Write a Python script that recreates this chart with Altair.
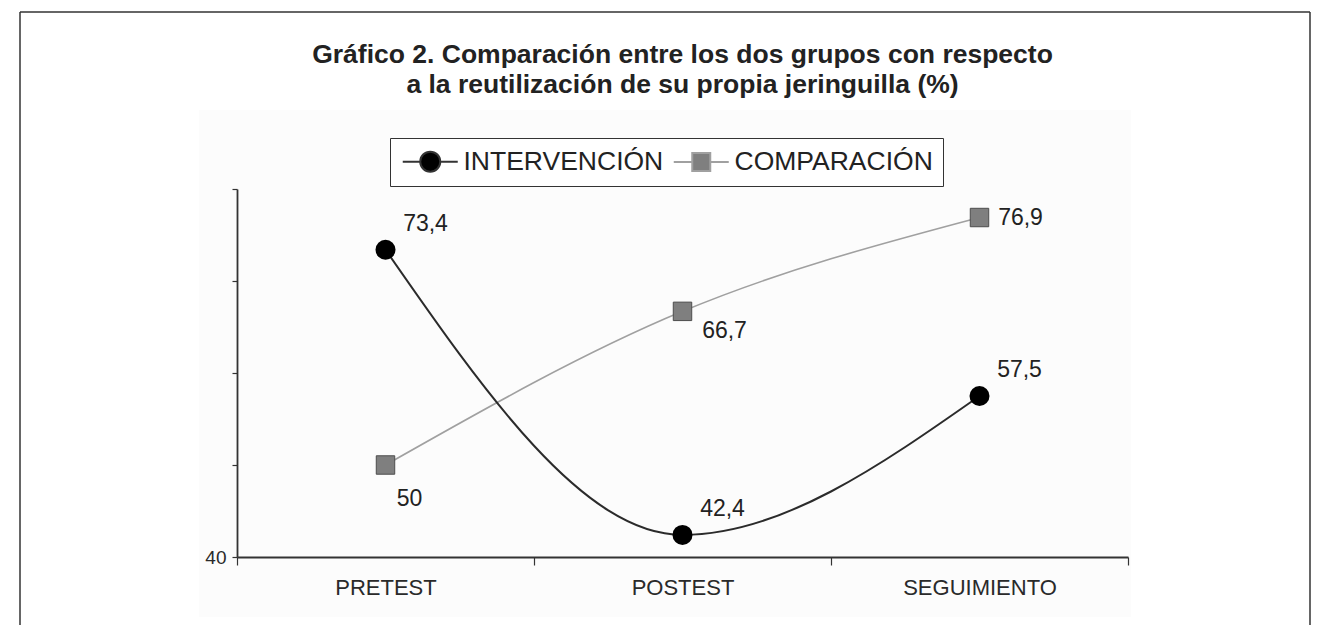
import altair as alt
import pandas as pd

# ---- data ----
fases = ["PRETEST", "POSTEST", "SEGUIMIENTO"]
series = ["INTERVENCIÓN", "COMPARACIÓN"]
intervencion = [73.4, 42.4, 57.5]
comparacion = [50, 66.7, 76.9]
titulo = ["Gráfico 2. Comparación entre los dos grupos con respecto",
          "a la reutilización de su propia jeringuilla (%)"]
y_ticks = [40, 50, 60, 70, 80]

rows = []
for f, v in zip(fases, intervencion):
    rows.append({"fase": f, "serie": series[0], "valor": v})
for f, v in zip(fases, comparacion):
    rows.append({"fase": f, "serie": series[1], "valor": v})
df = pd.DataFrame(rows)
dummy = pd.DataFrame({"k": [0]})

FONT = "Liberation Sans"
W, H = 891, 368

x = alt.X("fase:N", sort=fases,
          scale=alt.Scale(type="band", paddingInner=0, paddingOuter=0),
          axis=alt.Axis(title=None, tickBand="extent", labelAngle=0, zindex=2,
                        labelFont=FONT, labelFontSize=22, labelColor="#2a2a2a",
                        labelPadding=12, tickSize=8, tickColor="#333", tickWidth=1.2,
                        domainColor="#333", domainWidth=1.8, grid=False))
y = alt.Y("valor:Q",
          scale=alt.Scale(domain=[40, 80], nice=False, zero=False),
          axis=alt.Axis(title=None, values=y_ticks, zindex=2,
                        labelExpr="datum.value == 40 ? '40' : ''",
                        labelFont=FONT, labelFontSize=19, labelColor="#2a2a2a",
                        labelPadding=6, tickSize=5, tickColor="#333", tickWidth=1.2,
                        domainColor="#333", domainWidth=1.8, grid=False))

base = alt.Chart(df).transform_calculate(
    etiqueta="replace(toString(datum.valor), '.', ',')")

# faint image background and outer frame
fondo = alt.Chart(dummy).mark_rect(fill="#fcfcfc").encode(
    x=alt.value(-38), x2=alt.value(894), y=alt.value(-79), y2=alt.value(428))
marco_izq = alt.Chart(dummy).mark_rule(color="#333", strokeWidth=1.5).encode(
    x=alt.value(-217), y=alt.value(-177), y2=alt.value(445))
marco_der = alt.Chart(dummy).mark_rule(color="#333", strokeWidth=1.5).encode(
    x=alt.value(1073), y=alt.value(-177), y2=alt.value(445))
marco_sup = alt.Chart(dummy).mark_rule(color="#333", strokeWidth=1.5).encode(
    x=alt.value(-217), x2=alt.value(1073), y=alt.value(-177))

def flt(s):
    return f"datum.serie == '{s}'"

linea_int = base.transform_filter(flt(series[0])).mark_line(
    interpolate="monotone", color="#2b2b2b", strokeWidth=2).encode(x=x, y=y)
linea_com = base.transform_filter(flt(series[1])).mark_line(
    interpolate="monotone", color="#a0a0a0", strokeWidth=1.6).encode(x=x, y=y)

pto_int = base.transform_filter(flt(series[0])).mark_point(
    shape="circle", filled=True, size=400, opacity=1, color="#000000").encode(x=x, y=y)
pto_com = base.transform_filter(flt(series[1])).mark_point(
    shape="square", filled=True, size=340, opacity=1, fill="#7f7f7f",
    stroke="#4d4d4d", strokeWidth=1).encode(x=x, y=y)

txt_kw = dict(font=FONT, fontSize=23, color="#222", align="center", baseline="middle")
lab_int = base.transform_filter(flt(series[0])).mark_text(dx=40, dy=-26, **txt_kw).encode(
    x=x, y=y, text="etiqueta:N")
com_offsets = [(24, 34), (42, 20), (41, 0)]
lab_com = []
for f, (ddx, ddy) in zip(fases, com_offsets):
    lab_com.append(
        base.transform_filter(f"{flt(series[1])} && datum.fase == '{f}'")
        .mark_text(dx=ddx, dy=ddy, **txt_kw).encode(x=x, y=y, text="etiqueta:N"))

# legend (line + marker symbols)
circ_path = "M-2.75,0L-1,0M1,0L2.75,0M1,0A1,1,0,1,1,-1,0A1,1,0,1,1,1,0Z"
sq_path = "M-2.75,0L-1,0M1,0L2.75,0M-0.9,-0.9L0.9,-0.9L0.9,0.9L-0.9,0.9Z"
leg = alt.Legend(title=None, orient="none", legendX=153, legendY=-51,
                 direction="horizontal", padding=10, strokeColor="#333",
                 fillColor="#ffffff", labelFont=FONT, labelFontSize=26.5,
                 labelColor="#222", labelLimit=400, symbolSize=400,
                 symbolOffset=17, labelOffset=20, columnPadding=5,
                 symbolStrokeWidth=2, symbolOpacity=1)
leyenda = base.transform_filter("false").mark_point(filled=True, size=400, opacity=1).encode(
    shape=alt.Shape("serie:N", scale=alt.Scale(domain=series, range=[circ_path, sq_path]), legend=leg),
    fill=alt.Fill("serie:N", scale=alt.Scale(domain=series, range=["#000000", "#7f7f7f"]), legend=leg),
    stroke=alt.Stroke("serie:N", scale=alt.Scale(domain=series, range=["#333333", "#a0a0a0"]), legend=leg),
)

chart = alt.layer(
    fondo, marco_izq, marco_der, marco_sup,
    linea_com, linea_int, pto_com, pto_int, lab_int, *lab_com, leyenda
).properties(
    width=W, height=H,
    padding={"left": 11, "top": 3, "right": 0, "bottom": 0},
    title=alt.TitleParams(text=titulo, font=FONT, fontSize=26.5, fontWeight="bold",
                          color="#222", anchor="middle", offset=-87, lineHeight=30),
).configure_view(strokeWidth=0).configure(background="#ffffff")

chart.save("out.html", embed_options={"renderer": "svg", "actions": False})
